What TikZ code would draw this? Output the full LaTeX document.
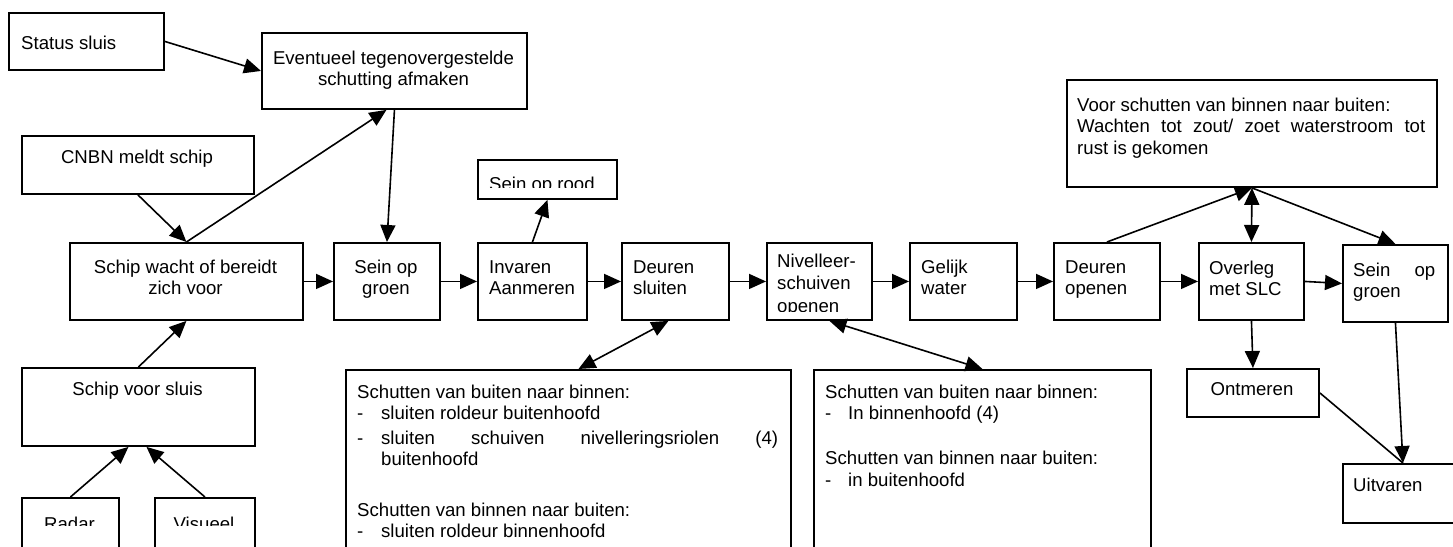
\documentclass[tikz,border=0pt]{standalone}
\usepackage{fontspec}
\setmainfont{Liberation Sans}
\usetikzlibrary{arrows.meta}

\begin{document}
\begin{tikzpicture}[x=1pt,y=-1pt,
  box/.style={draw, line width=1.9pt, rectangle, inner sep=0pt, anchor=north west},
  txt/.style={inner sep=0pt, font=\fontsize{18.6}{21.3}\selectfont},
  conn/.style={line width=1.6pt, -{Triangle[length=17pt,width=15pt]}},
  twoway/.style={line width=1.6pt, {Triangle[length=17pt,width=15pt]}-{Triangle[length=17pt,width=15pt]}},
  plainline/.style={line width=1.6pt}
]
\useasboundingbox (0,0) rectangle (1453,546);
\clip (0,0) rectangle (1453,546);

% ---------- boxes ----------
\node[box, minimum width=155pt, minimum height=57pt]  (status)    at (8,12) {};
\node[box, minimum width=265pt, minimum height=76pt]  (event)     at (261,32) {};
\node[box, minimum width=232pt, minimum height=58pt]  (cnbn)      at (21,135) {};
\node[box, minimum width=139pt, minimum height=39pt]  (rood)      at (477,159) {};
\node[box, minimum width=370pt, minimum height=107pt] (voor)      at (1066,79) {};
\node[box, minimum width=233pt, minimum height=77pt]  (wacht)     at (69,242) {};
\node[box, minimum width=106pt, minimum height=77pt]  (groen1)    at (333,242) {};
\node[box, minimum width=109pt, minimum height=77pt]  (invaren)   at (477,242) {};
\node[box, minimum width=107pt, minimum height=77pt]  (dsluit)    at (621,242) {};
\node[box, minimum width=105pt, minimum height=77pt]  (nivel)     at (766,242) {};
\node[box, minimum width=107pt, minimum height=77pt]  (gelijk)    at (909,242) {};
\node[box, minimum width=106pt, minimum height=77pt]  (dopen)     at (1053,242) {};
\node[box, minimum width=105pt, minimum height=77pt]  (overleg)   at (1198,242) {};
\node[box, minimum width=105pt, minimum height=77pt]  (groen2)    at (1342,244) {};
\node[box, minimum width=132pt, minimum height=48pt]  (ontmeren)  at (1186,368) {};
\node[box, minimum width=120pt, minimum height=59pt]  (uitvaren)  at (1342,463) {};
\node[box, minimum width=233pt, minimum height=78pt]  (voorsluis) at (21,367) {};
\node[box, minimum width=97pt,  minimum height=63pt]  (radar)     at (21,497) {};
\node[box, minimum width=100pt, minimum height=63pt]  (visueel)   at (154,497) {};
\node[box, minimum width=445pt, minimum height=191pt] (info1)     at (345,369) {};
\node[box, minimum width=337pt, minimum height=191pt] (info2)     at (813,369) {};

% ---------- texts ----------
\node[txt, anchor=base west] (tstatus) at (21,49) {Status sluis};
\node[txt, anchor=base] (tevent) at (393.5,64) {\parbox[t]{265pt}{\centering Eventueel tegenovergestelde\\schutting afmaken}};
\node[txt, anchor=base] (tcnbn) at (137,163) {CNBN meldt schip};
\begin{scope}
  \clip (477,159) rectangle (616,187);
  \node[txt, anchor=base west] (trood) at (489,190) {Sein op rood};
\end{scope}
\node[txt, anchor=base west] (tvoor) at (1077,111.6) {\parbox[t]{348pt}{Voor schutten van binnen naar buiten:\\
  \makebox[348pt][s]{Wachten tot zout/ zoet waterstroom tot}\\rust is gekomen}};
\node[txt, anchor=base] (twacht) at (185.5,273) {\parbox[t]{233pt}{\centering Schip wacht of bereidt\\zich voor}};
\node[txt, anchor=base] (tgroen1) at (386,273) {\parbox[t]{106pt}{\centering Sein op\\groen}};
\node[txt, anchor=base west] (tinvaren) at (489,273) {\parbox[t]{95pt}{Invaren\\Aanmeren}};
\node[txt, anchor=base west] (tdsluit) at (633,273) {\parbox[t]{95pt}{Deuren\\sluiten}};
\begin{scope}
  \clip (766,242) rectangle (871,311);
  \node[txt, anchor=base west] (tnivel) at (777,267) {\parbox[t]{95pt}{\fontsize{18.6}{22.5}\selectfont Nivelleer-\\schuiven\\openen}};
\end{scope}
\node[txt, anchor=base west] (tgelijk) at (921,273) {\parbox[t]{95pt}{Gelijk\\water}};
\node[txt, anchor=base west] (tdopen) at (1065,273) {\parbox[t]{95pt}{Deuren\\openen}};
\node[txt, anchor=base west] (toverleg) at (1209,274) {\parbox[t]{95pt}{Overleg\\met SLC}};
\node[txt, anchor=base west] (tgroen2) at (1353,276.5) {\parbox[t]{82pt}{\makebox[82pt][s]{Sein op}\\groen}};
\node[txt, anchor=base] (tontmeren) at (1252,395) {Ontmeren};
\node[txt, anchor=base west] (tuitvaren) at (1353,491) {Uitvaren};
\node[txt, anchor=base] (tvoorsluis) at (137.5,395) {Schip voor sluis};
\begin{scope}
  \clip (21,497) rectangle (254,525);
  \node[txt, anchor=base] (tradar) at (69.5,530) {Radar};
  \node[txt, anchor=base] (tvisueel) at (204,530) {Visueel};
\end{scope}
\node[txt, anchor=base west] (tinfo1) at (357,398.3) {\parbox[t]{425pt}{%
  Schutten van buiten naar binnen:\\
  \makebox[24pt][l]{-}sluiten roldeur buitenhoofd\\[3.7pt]
  \makebox[24pt][l]{-}\makebox[397pt][s]{sluiten schuiven nivelleringsriolen (4)}\\
  \hspace*{24pt}buitenhoofd\\[29.3pt]
  Schutten van binnen naar buiten:\\
  \makebox[24pt][l]{-}sluiten roldeur binnenhoofd}};
\node[txt, anchor=base west] (tinfo2) at (825,398.3) {\parbox[t]{315pt}{%
  Schutten van buiten naar binnen:\\
  \makebox[23pt][l]{-}In binnenhoofd (4)\\[24pt]
  Schutten van binnen naar buiten:\\
  \makebox[23pt][l]{-}in buitenhoofd}};

% ---------- connectors ----------
\draw[conn] (status.east) -- (event.west);
\draw[conn] (cnbn.south) -- (wacht.north);
\draw[conn] (wacht.north) -- ([xshift=-8pt]event.south);
\draw[conn] (event.south) -- (groen1.north);
\draw[conn] (voorsluis.north) -- (wacht.south);
\draw[conn] (radar.north) -- ([xshift=-10pt]voorsluis.south);
\draw[conn] (visueel.north) -- ([xshift=8pt]voorsluis.south);

\draw[conn] (wacht.east) -- (groen1.west);
\draw[conn] (groen1.east) -- (invaren.west);
\draw[conn] (invaren.east) -- (dsluit.west);
\draw[conn] (dsluit.east) -- (nivel.west);
\draw[conn] (nivel.east) -- (gelijk.west);
\draw[conn] (gelijk.east) -- (dopen.west);
\draw[conn] (dopen.east) -- (overleg.west);
\draw[conn] (overleg.east) -- (groen2.west);

\draw[conn] (invaren.north) -- (rood.south);
\draw[twoway] ([xshift=10pt]info1.north) -- ([xshift=-7pt]dsluit.south);
\draw[twoway] ([xshift=10pt]nivel.south) -- (info2.north);

\draw[conn] (dopen.north) -- (voor.south);
\draw[twoway] (voor.south) -- (overleg.north);
\draw[conn] (voor.south) -- (groen2.north);
\draw[conn] (overleg.south) -- (ontmeren.north);
\draw[conn] (groen2.south) -- (uitvaren.north);
\draw[plainline] (ontmeren.east) -- (uitvaren.north);
\end{tikzpicture}
\end{document}
